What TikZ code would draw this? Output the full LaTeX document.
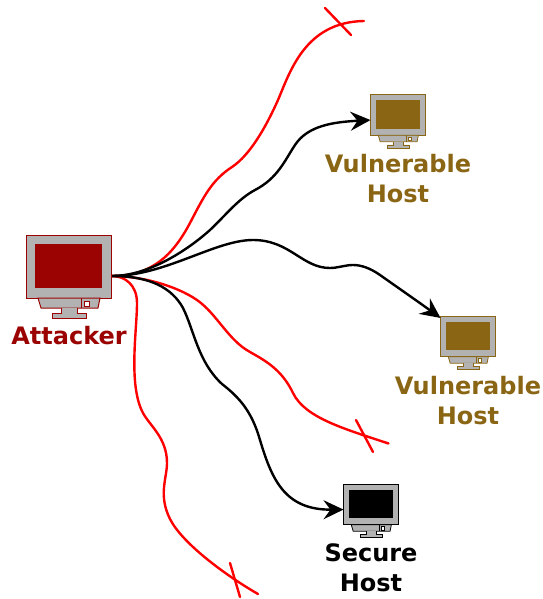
\documentclass[tikz,border=0pt]{standalone}
\usepackage{fontspec}
\setmainfont{DejaVu Sans}
\usetikzlibrary{arrows.meta}
\definecolor{atk}{RGB}{155,3,3}
\definecolor{vul}{RGB}{138,102,20}
\definecolor{case}{RGB}{178,178,178}
\tikzset{
  redline/.style={draw=red,line width=2.4pt,line cap=round},
  blackline/.style={draw=black,line width=2.4pt,-{Stealth[length=20pt,width=19pt,inset=7pt]}},
  lab/.style={font=\bfseries\fontsize{24}{30}\selectfont,align=center,inner sep=0pt}
}
% #1 name, #2 left x, #3 top y, #4 scale, #5 colour, #6 frame width
\newcommand{\computer}[6]{%
  \begin{scope}[shift={(#2,#3)},scale=#4,x=1pt,y=-1pt,draw=#5,line width=#6,line join=miter]
    \draw[fill=case] (0,0) rectangle (85,63);
    \fill[#5] (9,9) rectangle (76,53);
    \draw[fill=case] (12,63) -- (15,73) -- (72,73) -- (74,63) -- cycle;
    \draw (55,63) -- (55,73);
    \draw[fill=white] (58,66) rectangle (63,71);
    \draw[fill=case] (35,73) -- (35,78) -- (26,78) -- (26,83) -- (60,83) -- (60,78) -- (51,78) -- (51,73);
    \coordinate (#1W) at (0,39.5);
    \coordinate (#1N) at (0,3);
  \end{scope}}
\begin{document}
\begin{tikzpicture}[x=1pt,y=-1pt]
\useasboundingbox (0,0) rectangle (542,599);
\computer{atk}{26}{235}{1}{atk}{1pt}
\computer{va}{370.5}{94.5}{0.647}{vul}{0.8pt}
\computer{vb}{440.5}{316}{0.647}{vul}{0.8pt}
\computer{sec}{343.5}{484}{0.647}{black}{0.8pt}
\node[lab,text=atk] (latk) at (69,336) {Attacker};
\node[lab,text=vul] (lva) at (398,179) {Vulnerable\\Host};
\node[lab,text=vul] (lvb) at (468,401) {Vulnerable\\Host};
\node[lab,text=black] (lsec) at (371,568) {Secure\\Host};
\coordinate (src) at (112,276);
\coordinate (ea) at (364,21);
\coordinate (eb) at (388.5,443.5);
\coordinate (ec) at (258,594);
% red
\draw[redline] (src) .. controls (152,276) and (173,255) .. (190,223)
  .. controls (204,196) and (212,180) .. (232,167)
  .. controls (250,155) and (266,127) .. (278,100)
  .. controls (290,72) and (305,22) .. (ea);
\draw[redline] (src) .. controls (140,276) and (175,285) .. (197,300)
  .. controls (217,314) and (228,340) .. (250,352)
  .. controls (266,361) and (282,370) .. (293,393)
  .. controls (305,418) and (345,429) .. (eb);
\draw[redline] (src) .. controls (125,276) and (137,285) .. (137,303)
  .. controls (137,330) and (128,385) .. (143,413)
  .. controls (150,426) and (167,438) .. (167,463)
  .. controls (167,478) and (158,495) .. (170,519)
  .. controls (182,543) and (225,575) .. (ec);
% crosses
\coordinate (xa1) at (325,8); \coordinate (xa2) at (351,35);
\coordinate (xb1) at (356,420); \coordinate (xb2) at (373,452);
\coordinate (xc1) at (230,563); \coordinate (xc2) at (240,597);
\draw[redline] (xa1) -- (xa2);
\draw[redline] (xb1) -- (xb2);
\draw[redline] (xc1) -- (xc2);
% black
\draw[blackline] (src) .. controls (150,276) and (190,248) .. (210,230)
  .. controls (225,216) and (238,199) .. (255,190)
  .. controls (278,178) and (285,160) .. (295,145)
  .. controls (308,125) and (335,122) .. (vaW);
\draw[blackline] (src) .. controls (165,276) and (215,240) .. (253,240)
  .. controls (290,240) and (302,268) .. (330,268)
  .. controls (338,268) and (345,265) .. (353,265)
  .. controls (361,265) and (370,268) .. (380,275)
  .. controls (397,287) and (420,303) .. (vbN);
\draw[blackline] (src) .. controls (150,276) and (172,288) .. (183,308)
  .. controls (194,330) and (198,362) .. (222,384)
  .. controls (240,398) and (252,412) .. (260,440)
  .. controls (272,480) and (285,510) .. (secW);
\end{tikzpicture}
\end{document}
